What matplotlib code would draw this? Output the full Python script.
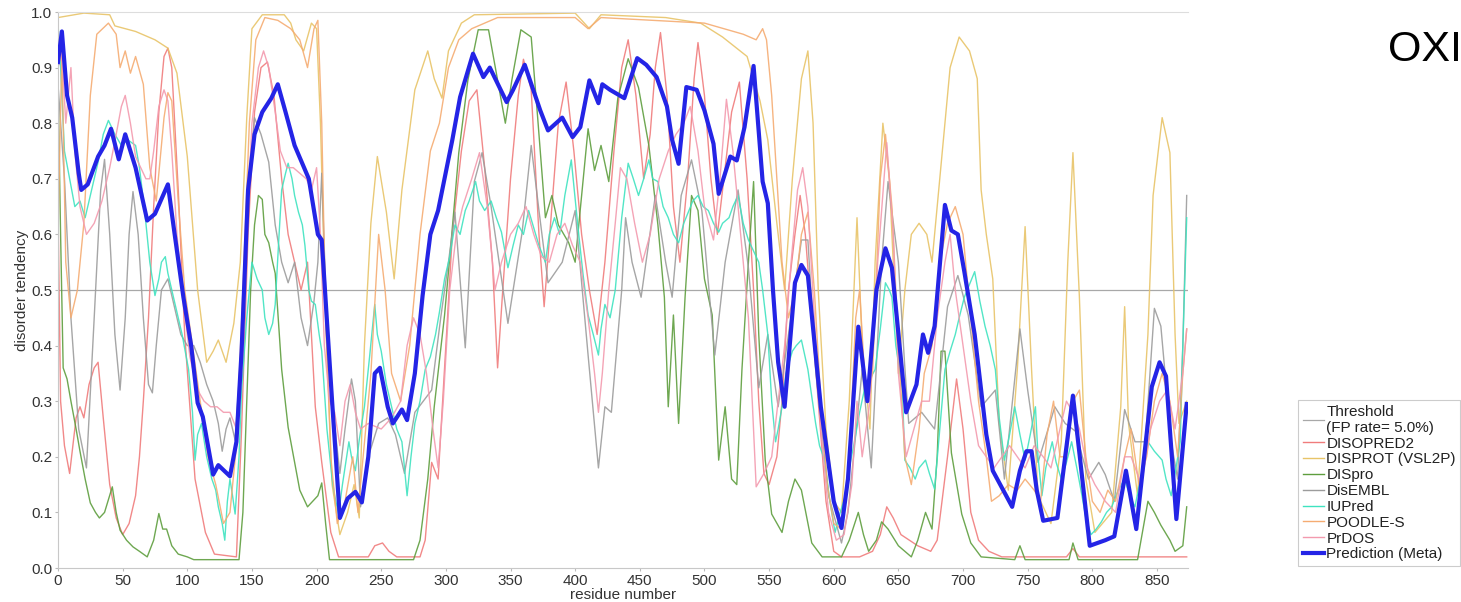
import matplotlib
matplotlib.use("Agg")
import matplotlib.pyplot as plt
from matplotlib.lines import Line2D

# ---------------- data (residue position, disorder tendency) ----------------
meta_res = [0, 3, 7, 11, 16, 18, 23, 31, 36, 41, 47, 52, 60, 69, 75, 85, 90, 97, 103, 108, 112, 120, 124, 133, 138,
            142, 147, 152, 158, 165, 170, 176, 183, 194, 201, 204, 212, 218, 224, 230, 235, 240, 245, 249, 255, 259,
            266, 270, 276, 282, 288, 294, 305, 311, 321, 329, 334, 347, 352, 361, 373, 379, 390, 398, 404, 411, 418,
            421, 427, 438, 448, 455, 463, 471, 475, 480, 486, 494, 500, 507, 511, 520, 525, 531, 538, 545, 549, 553,
            557, 562, 570, 575, 580, 590, 600, 606, 611, 619, 626, 633, 640, 645, 656, 664, 669, 673, 678, 686, 691,
            696, 701, 709, 718, 723, 738, 744, 749, 753, 757, 762, 773, 785, 790, 798, 810, 817, 826, 834, 846, 852,
            857, 865, 873]
meta_val = [0.91, 0.965, 0.85, 0.81, 0.71, 0.68, 0.69, 0.74, 0.76, 0.79, 0.735, 0.78, 0.72, 0.625, 0.637, 0.69, 0.604,
            0.487, 0.40, 0.297, 0.272, 0.168, 0.185, 0.165, 0.227, 0.39, 0.68, 0.78, 0.82, 0.845, 0.87, 0.82, 0.76,
            0.70, 0.60, 0.59, 0.30, 0.09, 0.125, 0.137, 0.118, 0.20, 0.35, 0.36, 0.29, 0.26, 0.285, 0.266, 0.35,
            0.49, 0.60, 0.643, 0.77, 0.847, 0.925, 0.883, 0.90, 0.838, 0.86, 0.905, 0.823, 0.787, 0.81, 0.775, 0.793,
            0.877, 0.836, 0.87, 0.86, 0.845, 0.917, 0.905, 0.883, 0.83, 0.77, 0.727, 0.865, 0.86, 0.823, 0.763, 0.673,
            0.74, 0.733, 0.793, 0.903, 0.695, 0.656, 0.50, 0.37, 0.29, 0.513, 0.545, 0.526, 0.29, 0.12, 0.072, 0.16,
            0.434, 0.30, 0.50, 0.575, 0.54, 0.28, 0.33, 0.42, 0.387, 0.435, 0.653, 0.607, 0.60, 0.533, 0.42, 0.24,
            0.175, 0.11, 0.175, 0.21, 0.21, 0.14, 0.085, 0.09, 0.31, 0.207, 0.04, 0.05, 0.057, 0.175, 0.07, 0.326,
            0.37, 0.345, 0.088, 0.295]

disprot_res = [0, 20, 40, 44, 60, 75, 85, 92, 100, 108, 115, 120, 124, 130, 136, 141, 146, 150, 158, 175, 180, 184,
               190, 196, 200, 203, 207, 212, 218, 224, 229, 233, 237, 242, 247, 254, 260, 266, 276, 286, 291, 297, 302,
               312, 322, 400, 411, 420, 470, 497, 514, 533, 543, 549, 556, 562, 568, 575, 580, 584, 588, 594, 600, 606,
               612, 618, 622, 628, 632, 638, 643, 650, 655, 660, 666, 672, 676, 682, 690, 697, 705, 711, 714, 718, 723,
               728, 735, 742, 748, 753, 758, 768, 776, 781, 785, 790, 795, 802, 815, 822, 825, 828, 835, 843, 847, 854,
               860, 864, 867, 873]
disprot_val = [0.99, 0.998, 0.995, 0.975, 0.965, 0.95, 0.935, 0.89, 0.74, 0.50, 0.37, 0.39, 0.41, 0.37, 0.44, 0.55,
               0.81, 0.97, 0.995, 0.995, 0.98, 0.95, 0.93, 0.98, 0.97, 0.80, 0.45, 0.15, 0.06, 0.10, 0.15, 0.09, 0.40,
               0.62, 0.74, 0.64, 0.52, 0.68, 0.86, 0.93, 0.88, 0.845, 0.93, 0.98, 0.995, 0.998, 0.97, 0.995, 0.99, 0.98,
               0.955, 0.92, 0.84, 0.77, 0.62, 0.50, 0.70, 0.88, 0.93, 0.80, 0.50, 0.25, 0.12, 0.10, 0.30, 0.63, 0.40,
               0.25, 0.55, 0.80, 0.70, 0.35, 0.50, 0.60, 0.62, 0.60, 0.55, 0.70, 0.90, 0.955, 0.93, 0.88, 0.68, 0.60,
               0.52, 0.26, 0.14, 0.357, 0.614, 0.357, 0.13, 0.08, 0.227, 0.55, 0.747, 0.487, 0.16, 0.064, 0.10, 0.29,
               0.47, 0.26, 0.13, 0.42, 0.67, 0.81, 0.747, 0.42, 0.26, 0.30]

disembl_res = [0, 5, 10, 16, 22, 28, 33, 36, 40, 44, 48, 52, 55, 58, 62, 66, 70, 73, 76, 80, 85, 90, 95, 100, 105, 110,
               115, 120, 124, 127, 130, 133, 137, 143, 148, 152, 157, 163, 168, 173, 178, 183, 188, 193, 198, 201, 204,
               207, 212, 218, 222, 227, 230, 234, 240, 248, 255, 261, 268, 276, 289, 296, 302, 307, 315, 322, 328, 335,
               343, 348, 359, 366, 372, 379, 390, 400, 410, 418, 423, 428, 436, 439, 444, 451, 462, 470, 475, 482, 490,
               498, 508, 516, 526, 534, 542, 549, 557, 565, 575, 580, 586, 596, 606, 611, 622, 629, 637, 642, 650, 655,
               658, 668, 678, 688, 696, 704, 714, 725, 732, 744, 750, 758, 771, 779, 787, 797, 805, 810, 817, 825, 833,
               841, 848, 853, 861, 866, 870, 873]
disembl_val = [0.87, 0.70, 0.45, 0.25, 0.18, 0.45, 0.68, 0.735, 0.60, 0.42, 0.32, 0.45, 0.60, 0.677, 0.60, 0.45, 0.33,
               0.315, 0.40, 0.50, 0.52, 0.47, 0.42, 0.40, 0.40, 0.37, 0.33, 0.30, 0.26, 0.21, 0.25, 0.27, 0.23, 0.44,
               0.70, 0.81, 0.78, 0.73, 0.617, 0.55, 0.513, 0.55, 0.45, 0.40, 0.48, 0.55, 0.71, 0.50, 0.30, 0.17, 0.25,
               0.34, 0.30, 0.11, 0.20, 0.26, 0.27, 0.24, 0.17, 0.28, 0.32, 0.45, 0.55, 0.64, 0.396, 0.695, 0.747, 0.65,
               0.52, 0.44, 0.604, 0.76, 0.643, 0.513, 0.55, 0.643, 0.383, 0.18, 0.29, 0.28, 0.50, 0.63, 0.55, 0.487,
               0.67, 0.55, 0.487, 0.67, 0.734, 0.643, 0.383, 0.55, 0.68, 0.54, 0.324, 0.42, 0.29, 0.42, 0.59, 0.59,
               0.357, 0.13, 0.045, 0.10, 0.357, 0.18, 0.55, 0.695, 0.55, 0.36, 0.26, 0.28, 0.25, 0.47, 0.526, 0.455,
               0.29, 0.32, 0.16, 0.43, 0.32, 0.19, 0.29, 0.26, 0.246, 0.16, 0.19, 0.168, 0.12, 0.285, 0.227, 0.227,
               0.467, 0.435, 0.227, 0.16, 0.40, 0.67]

dispro_res = [0, 2, 4, 7, 10, 14, 17, 21, 25, 29, 32, 36, 42, 45, 48, 53, 58, 63, 69, 74, 78, 81, 84, 88, 93, 100, 105,
              140, 143, 146, 149, 152, 155, 158, 160, 163, 166, 168, 173, 178, 183, 187, 193, 197, 201, 204, 207, 210,
              275, 280, 286, 291, 299, 304, 310, 317, 325, 333, 340, 346, 351, 358, 366, 371, 377, 382, 387, 395, 400,
              405, 410, 415, 420, 426, 433, 441, 449, 457, 464, 469, 472, 476, 480, 485, 490, 495, 500, 506, 511, 516,
              521, 525, 529, 534, 538, 542, 547, 552, 560, 565, 570, 575, 580, 583, 591, 606, 612, 619, 623, 627, 633,
              637, 642, 650, 660, 665, 671, 676, 680, 683, 686, 691, 699, 706, 714, 740, 744, 748, 782, 785, 789, 835,
              840, 843, 848, 853, 860, 864, 870, 873]
dispro_val = [0.88, 0.60, 0.36, 0.34, 0.30, 0.25, 0.21, 0.16, 0.117, 0.10, 0.09, 0.10, 0.146, 0.10, 0.068, 0.05, 0.038,
              0.03, 0.02, 0.05, 0.098, 0.07, 0.07, 0.04, 0.025, 0.02, 0.015, 0.015, 0.10, 0.30, 0.50, 0.617, 0.67,
              0.663, 0.60, 0.585, 0.55, 0.53, 0.357, 0.253, 0.19, 0.14, 0.11, 0.12, 0.13, 0.153, 0.08, 0.015, 0.015,
              0.05, 0.16, 0.29, 0.455, 0.585, 0.747, 0.877, 0.968, 0.968, 0.877, 0.80, 0.877, 0.968, 0.955, 0.81,
              0.63, 0.67, 0.617, 0.585, 0.55, 0.67, 0.79, 0.715, 0.76, 0.695, 0.845, 0.916, 0.864, 0.76, 0.617, 0.487,
              0.29, 0.455, 0.26, 0.487, 0.67, 0.643, 0.52, 0.455, 0.194, 0.29, 0.16, 0.15, 0.357, 0.55, 0.695, 0.42,
              0.194, 0.097, 0.064, 0.12, 0.16, 0.14, 0.08, 0.045, 0.02, 0.02, 0.05, 0.10, 0.06, 0.03, 0.05, 0.083,
              0.07, 0.04, 0.02, 0.05, 0.10, 0.07, 0.20, 0.39, 0.39, 0.207, 0.097, 0.045, 0.02, 0.015, 0.04, 0.015,
              0.015, 0.045, 0.015, 0.015, 0.08, 0.12, 0.10, 0.077, 0.05, 0.03, 0.04, 0.11]

iupred_res = [0, 2, 5, 9, 13, 17, 21, 26, 31, 35, 39, 44, 49, 54, 60, 63, 67, 71, 75, 78, 80, 83, 85, 88, 92, 96, 101,
              104, 106, 108, 111, 115, 119, 122, 124, 127, 129, 131, 133, 135, 137, 140, 142, 146, 150, 154, 158, 160,
              163, 166, 168, 171, 173, 176, 178, 181, 183, 186, 189, 191, 194, 196, 199, 202, 204, 208, 212, 214, 217,
              220, 225, 227, 230, 233, 237, 241, 245, 247, 250, 254, 258, 262, 266, 268, 270, 273, 276, 280, 284, 288,
              292, 295, 299, 303, 307, 311, 315, 318, 323, 326, 330, 335, 339, 343, 348, 352, 356, 360, 364, 369, 372,
              377, 380, 384, 388, 392, 397, 402, 406, 410, 414, 418, 420, 423, 427, 431, 436, 441, 445, 449, 453, 457,
              460, 464, 468, 472, 476, 480, 484, 488, 491, 495, 499, 503, 507, 511, 514, 519, 522, 526, 530, 534, 538,
              542, 545, 549, 552, 555, 557, 560, 563, 568, 571, 575, 580, 586, 589, 593, 597, 601, 605, 609, 612, 616,
              620, 624, 628, 632, 636, 640, 643, 645, 648, 653, 655, 659, 663, 666, 671, 674, 678, 682, 686, 690, 694,
              697, 701, 705, 709, 713, 717, 721, 725, 728, 732, 736, 740, 744, 748, 752, 756, 758, 761, 764, 769, 772,
              776, 780, 784, 788, 792, 795, 799, 803, 807, 811, 815, 820, 825, 829, 833, 838, 843, 848, 854, 857, 861,
              864, 868, 870, 873]
iupred_val = [0.98, 0.90, 0.75, 0.70, 0.65, 0.66, 0.63, 0.68, 0.73, 0.78, 0.805, 0.78, 0.76, 0.77, 0.76, 0.72, 0.643,
              0.55, 0.49, 0.52, 0.55, 0.56, 0.53, 0.50, 0.46, 0.42, 0.357, 0.28, 0.194, 0.24, 0.26, 0.20, 0.16, 0.14,
              0.11, 0.08, 0.05, 0.12, 0.16, 0.13, 0.097, 0.20, 0.32, 0.45, 0.55, 0.52, 0.50, 0.45, 0.42, 0.44, 0.474,
              0.60, 0.68, 0.71, 0.728, 0.70, 0.67, 0.64, 0.617, 0.58, 0.50, 0.48, 0.474, 0.42, 0.39, 0.25, 0.16, 0.13,
              0.097, 0.15, 0.227, 0.20, 0.175, 0.23, 0.29, 0.38, 0.474, 0.42, 0.39, 0.33, 0.29, 0.25, 0.227, 0.18,
              0.13, 0.20, 0.26, 0.30, 0.357, 0.38, 0.42, 0.46, 0.52, 0.56, 0.617, 0.60, 0.643, 0.66, 0.695, 0.66,
              0.643, 0.66, 0.63, 0.604, 0.54, 0.58, 0.617, 0.60, 0.643, 0.604, 0.58, 0.55, 0.60, 0.63, 0.60, 0.67,
              0.734, 0.617, 0.53, 0.455, 0.42, 0.383, 0.43, 0.474, 0.45, 0.50, 0.63, 0.728, 0.70, 0.67, 0.70, 0.734,
              0.70, 0.695, 0.65, 0.63, 0.60, 0.585, 0.62, 0.643, 0.66, 0.67, 0.65, 0.643, 0.62, 0.604, 0.62, 0.63,
              0.65, 0.67, 0.62, 0.59, 0.57, 0.55, 0.50, 0.42, 0.30, 0.227, 0.25, 0.29, 0.35, 0.39, 0.40, 0.41, 0.357,
              0.26, 0.22, 0.194, 0.12, 0.064, 0.10, 0.13, 0.18, 0.227, 0.28, 0.324, 0.34, 0.357, 0.43, 0.513, 0.50,
              0.487, 0.40, 0.324, 0.194, 0.18, 0.16, 0.18, 0.194, 0.17, 0.142, 0.25, 0.357, 0.39, 0.42, 0.45, 0.487,
              0.51, 0.533, 0.48, 0.435, 0.40, 0.357, 0.27, 0.194, 0.24, 0.29, 0.24, 0.194, 0.24, 0.29, 0.20, 0.13,
              0.18, 0.227, 0.19, 0.16, 0.19, 0.227, 0.18, 0.13, 0.09, 0.06, 0.07, 0.083, 0.10, 0.11, 0.14, 0.16, 0.13,
              0.11, 0.17, 0.227, 0.21, 0.194, 0.16, 0.13, 0.17, 0.227, 0.40, 0.63]

disopred2_res = [0, 2, 5, 9, 14, 17, 20, 24, 28, 31, 35, 40, 45, 50, 55, 60, 63, 66, 70, 74, 78, 82, 85, 88, 93, 98,
                 106, 114, 121, 138, 142, 147, 152, 157, 162, 167, 173, 178, 183, 188, 193, 199, 204, 211, 217, 240,
                 245, 251, 256, 262, 280, 284, 289, 294, 299, 305, 312, 318, 324, 330, 336, 340, 344, 350, 356, 360,
                 366, 372, 376, 381, 387, 393, 399, 405, 411, 417, 423, 430, 436, 441, 447, 453, 458, 462, 466, 471,
                 476, 481, 487, 492, 495, 500, 505, 510, 515, 521, 527, 533, 538, 542, 546, 550, 556, 560, 565, 570,
                 574, 578, 583, 588, 594, 600, 606, 620, 630, 636, 641, 646, 652, 665, 675, 680, 688, 695, 700, 706,
                 712, 720, 730, 780, 785, 790, 873]
disopred2_val = [0.65, 0.30, 0.22, 0.17, 0.27, 0.29, 0.27, 0.33, 0.36, 0.37, 0.27, 0.15, 0.09, 0.06, 0.08, 0.13, 0.20,
                 0.30, 0.45, 0.65, 0.82, 0.92, 0.935, 0.90, 0.68, 0.42, 0.16, 0.064, 0.025, 0.02, 0.25, 0.60, 0.82,
                 0.90, 0.91, 0.85, 0.70, 0.60, 0.55, 0.50, 0.55, 0.29, 0.19, 0.064, 0.02, 0.02, 0.04, 0.045, 0.03,
                 0.02, 0.02, 0.05, 0.19, 0.16, 0.36, 0.60, 0.75, 0.84, 0.86, 0.72, 0.55, 0.36, 0.50, 0.70, 0.85, 0.915,
                 0.86, 0.60, 0.47, 0.62, 0.80, 0.874, 0.75, 0.60, 0.50, 0.42, 0.55, 0.75, 0.90, 0.95, 0.85, 0.70, 0.78,
                 0.90, 0.963, 0.85, 0.65, 0.55, 0.70, 0.88, 0.945, 0.85, 0.70, 0.60, 0.70, 0.82, 0.874, 0.70, 0.50,
                 0.30, 0.17, 0.15, 0.20, 0.30, 0.50, 0.60, 0.67, 0.60, 0.45, 0.30, 0.12, 0.03, 0.02, 0.02, 0.03, 0.06,
                 0.11, 0.09, 0.06, 0.04, 0.03, 0.05, 0.20, 0.34, 0.25, 0.10, 0.05, 0.03, 0.02, 0.02, 0.035, 0.02, 0.02]

poodle_res = [0, 3, 6, 10, 15, 20, 25, 30, 39, 45, 48, 52, 56, 60, 66, 71, 76, 82, 85, 88, 93, 98, 104, 110, 116, 122,
              128, 133, 138, 143, 148, 153, 160, 170, 180, 187, 193, 198, 201, 204, 207, 211, 216, 222, 228, 232, 236,
              242, 248, 253, 258, 265, 272, 280, 288, 295, 302, 310, 320, 340, 400, 410, 420, 500, 530, 540, 545, 548,
              552, 556, 560, 565, 570, 575, 580, 585, 590, 595, 600, 606, 612, 617, 620, 625, 630, 636, 640, 645, 650,
              655, 660, 666, 670, 676, 682, 688, 694, 700, 706, 712, 718, 722, 728, 735, 742, 748, 755, 760, 765, 770,
              775, 780, 785, 790, 795, 800, 806, 812, 818, 825, 830, 836, 842, 848, 854, 860, 866, 870, 873]
poodle_val = [0.60, 0.93, 0.55, 0.45, 0.50, 0.62, 0.85, 0.96, 0.98, 0.96, 0.90, 0.93, 0.89, 0.92, 0.87, 0.72, 0.66,
              0.81, 0.855, 0.84, 0.66, 0.50, 0.40, 0.30, 0.20, 0.15, 0.08, 0.10, 0.22, 0.50, 0.80, 0.95, 0.99, 0.985,
              0.97, 0.95, 0.90, 0.97, 0.985, 0.80, 0.45, 0.20, 0.08, 0.12, 0.20, 0.10, 0.20, 0.35, 0.60, 0.50, 0.35,
              0.30, 0.40, 0.60, 0.75, 0.80, 0.90, 0.95, 0.97, 0.99, 0.99, 0.97, 0.99, 0.98, 0.96, 0.95, 0.97, 0.95,
              0.85, 0.70, 0.55, 0.45, 0.50, 0.60, 0.64, 0.50, 0.30, 0.15, 0.08, 0.07, 0.20, 0.45, 0.50, 0.30, 0.35,
              0.70, 0.78, 0.65, 0.40, 0.20, 0.15, 0.25, 0.35, 0.40, 0.55, 0.62, 0.65, 0.60, 0.45, 0.30, 0.20, 0.12,
              0.13, 0.15, 0.14, 0.16, 0.14, 0.12, 0.24, 0.30, 0.20, 0.20, 0.30, 0.32, 0.20, 0.12, 0.10, 0.14, 0.12,
              0.20, 0.25, 0.15, 0.20, 0.30, 0.35, 0.30, 0.20, 0.35, 0.43]

prdos_res = [0, 3, 6, 10, 13, 17, 22, 28, 34, 40, 45, 49, 52, 56, 60, 64, 68, 71, 74, 78, 82, 85, 88, 92, 97, 102, 108,
             113, 118, 123, 128, 133, 138, 142, 146, 150, 155, 159, 163, 168, 172, 177, 182, 187, 192, 196, 200, 203,
             206, 210, 214, 218, 222, 226, 230, 234, 240, 250, 258, 265, 270, 275, 280, 285, 290, 294, 298, 303, 308,
             313, 320, 326, 332, 338, 343, 350, 356, 362, 368, 374, 380, 386, 392, 398, 404, 410, 415, 418, 421, 426,
             431, 435, 440, 446, 452, 458, 465, 472, 478, 484, 489, 495, 500, 507, 512, 517, 522, 528, 534, 540, 546,
             552, 557, 562, 567, 572, 576, 580, 585, 590, 596, 602, 608, 614, 618, 622, 628, 634, 641, 646, 650, 656,
             662, 668, 674, 680, 686, 690, 694, 700, 706, 712, 718, 724, 730, 736, 742, 748, 755, 762, 768, 775, 780,
             785, 790, 796, 802, 810, 818, 825, 830, 838, 845, 852, 858, 864, 870, 873]
prdos_val = [0.90, 0.93, 0.80, 0.90, 0.75, 0.65, 0.60, 0.62, 0.66, 0.72, 0.78, 0.83, 0.85, 0.80, 0.74, 0.72, 0.70,
             0.70, 0.75, 0.83, 0.86, 0.84, 0.75, 0.60, 0.48, 0.38, 0.32, 0.30, 0.29, 0.29, 0.28, 0.28, 0.25, 0.35,
             0.60, 0.80, 0.90, 0.93, 0.90, 0.82, 0.75, 0.72, 0.72, 0.71, 0.70, 0.68, 0.72, 0.60, 0.40, 0.30, 0.28,
             0.22, 0.30, 0.33, 0.28, 0.25, 0.26, 0.25, 0.27, 0.30, 0.40, 0.45, 0.42, 0.35, 0.25, 0.18, 0.30, 0.50,
             0.60, 0.65, 0.70, 0.747, 0.65, 0.50, 0.55, 0.60, 0.62, 0.65, 0.60, 0.56, 0.55, 0.60, 0.62, 0.58, 0.55,
             0.45, 0.35, 0.28, 0.35, 0.50, 0.62, 0.72, 0.70, 0.62, 0.55, 0.60, 0.70, 0.75, 0.78, 0.80, 0.83, 0.75,
             0.65, 0.59, 0.70, 0.843, 0.75, 0.60, 0.45, 0.146, 0.17, 0.20, 0.30, 0.40, 0.55, 0.68, 0.72, 0.65, 0.45,
             0.25, 0.10, 0.05, 0.06, 0.15, 0.30, 0.20, 0.30, 0.55, 0.765, 0.60, 0.35, 0.20, 0.25, 0.30, 0.30, 0.45,
             0.55, 0.60, 0.50, 0.40, 0.30, 0.22, 0.20, 0.18, 0.20, 0.22, 0.20, 0.18, 0.22, 0.20, 0.18, 0.25, 0.30,
             0.28, 0.25, 0.18, 0.15, 0.12, 0.10, 0.20, 0.20, 0.15, 0.25, 0.30, 0.32, 0.25, 0.35, 0.43]

threshold = 0.5
x_ticks = list(range(0, 851, 50))
y_ticks = [0.0, 0.1, 0.2, 0.3, 0.4, 0.5, 0.6, 0.7, 0.8, 0.9, 1.0]

series = [
    ("DISOPRED2", disopred2_res, disopred2_val, "#f07c7c"),
    ("DISPROT (VSL2P)", disprot_res, disprot_val, "#e8c468"),
    ("DISpro", dispro_res, dispro_val, "#5e9e3e"),
    ("DisEMBL", disembl_res, disembl_val, "#9c9c9c"),
    ("IUPred", iupred_res, iupred_val, "#3fe3c0"),
    ("POODLE-S", poodle_res, poodle_val, "#f5ac72"),
    ("PrDOS", prdos_res, prdos_val, "#f39aae"),
]

# ---------------- figure ----------------
plt.rcParams['font.family'] = ['Liberation Sans', 'DejaVu Sans']
fig = plt.figure(figsize=(14.61, 6.02), dpi=100)
ax = fig.add_axes([58 / 1461, 34 / 602, 1130 / 1461, 556 / 602])

ax.axhline(threshold, color="#a8a8a8", lw=0.9, zorder=1)
for name, r, v, c in series:
    ax.plot(r, v, color=c, lw=1.0, alpha=0.9, zorder=2)
ax.plot(meta_res, meta_val, color="#2424e6", lw=3.0, zorder=5, solid_joinstyle="round")

ax.set_xlim(0, 874)
ax.set_ylim(0, 1.0)
ax.set_xticks(x_ticks)
ax.set_yticks(y_ticks)
ax.set_yticklabels([f"{t:.1f}" for t in y_ticks])
ax.tick_params(axis="both", labelsize=11, labelcolor="#333333", length=2, color="#bbbbbb", pad=2)
for s in ["left", "bottom"]:
    ax.spines[s].set_color("#c8c8c8")
ax.spines["top"].set_color("#dddddd")
ax.spines["right"].set_visible(False)
ax.set_xlabel("residue number", fontsize=11, color="#333333", labelpad=0)
ax.set_ylabel("disorder tendency", fontsize=11, color="#333333", labelpad=2)

# legend
handles = [Line2D([], [], color="#a8a8a8", lw=0.9)]
labels = ["Threshold\n(FP rate= 5.0%)"]
for name, r, v, c in series:
    handles.append(Line2D([], [], color=c, lw=1.0))
    labels.append(name)
handles.append(Line2D([], [], color="#2424e6", lw=3.0))
labels.append("Prediction (Meta)")
leg = fig.legend(handles, labels, loc="upper left", bbox_to_anchor=(1298 / 1461, 1 - 400 / 602),
                 fontsize=11, frameon=True, fancybox=False, edgecolor="#cccccc", framealpha=1,
                 borderpad=0.3, labelspacing=0.12, handlelength=1.4, handletextpad=0.15, borderaxespad=0)
leg.get_frame().set_linewidth(0.8)
for t in leg.get_texts():
    t.set_color("#222222")

fig.text(1388 / 1461, 1 - 61 / 602, "OXI", fontsize=31, color="black", ha="left", va="baseline",
         family=["Liberation Sans", "DejaVu Sans"])

fig.savefig("out.png", dpi=100)
